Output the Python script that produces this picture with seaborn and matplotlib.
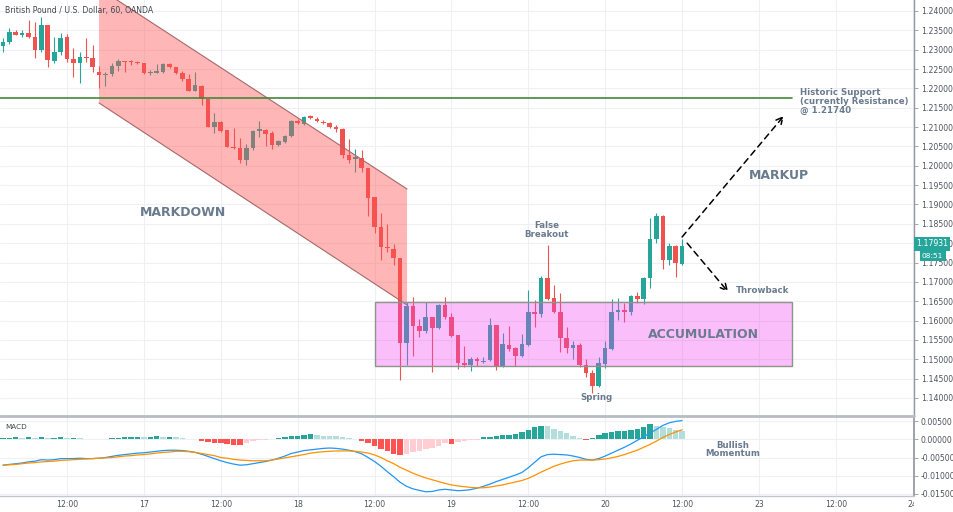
import numpy as np
import matplotlib
matplotlib.use("Agg")
import matplotlib.pyplot as plt
import seaborn as sns
from matplotlib.ticker import FuncFormatter
from matplotlib.lines import Line2D
from matplotlib.patches import Polygon, Rectangle
from matplotlib.transforms import Bbox, TransformedBbox

sns.set_theme(style="white")
plt.rcParams["font.family"] = ["DejaVu Sans"]

# ---------------- data (GBP/USD, 60 min, OANDA) ----------------
first_hour = 2  # first bar: 02:00 on the 16th, hourly bars follow

opens = [1.2310, 1.2321, 1.2347, 1.2338, 1.2342, 1.2334, 1.2299, 1.2364, 1.2272, 1.2295,
         1.2334, 1.2275, 1.2266, 1.2281, 1.2278, 1.2243, 1.2235, 1.2237, 1.2259, 1.2271,
         1.2270, 1.2269, 1.2265, 1.2241, 1.2241, 1.2243, 1.2263, 1.2254, 1.2239, 1.2224,
         1.2194, 1.2207, 1.2172, 1.2099, 1.2112, 1.2092, 1.2049, 1.2045, 1.2015, 1.2045,
         1.2090, 1.2093, 1.2084, 1.2054, 1.2061, 1.2076, 1.2117, 1.2108, 1.2129, 1.2122,
         1.2113, 1.2111, 1.2101, 1.2094, 1.2028, 1.2018, 1.2019, 1.1993, 1.1919, 1.1843,
         1.1791, 1.1785, 1.1761, 1.1543, 1.1638, 1.1586, 1.1573, 1.1608, 1.1582, 1.1640,
         1.1608, 1.1562, 1.1490, 1.1484, 1.1502, 1.1493, 1.1498, 1.1588, 1.1483, 1.1536,
         1.1528, 1.1509, 1.1537, 1.1623, 1.1617, 1.1711, 1.1658, 1.1621, 1.1554, 1.1530,
         1.1537, 1.1484, 1.1464, 1.1432, 1.1488, 1.1527, 1.1621, 1.1627, 1.1623, 1.1663,
         1.1656, 1.1709, 1.1810, 1.1869, 1.1757, 1.1793, 1.1747]
highs = [1.2329, 1.2357, 1.2351, 1.2351, 1.2377, 1.2372, 1.2385, 1.2364, 1.2334, 1.2342,
         1.2341, 1.2304, 1.2293, 1.2331, 1.2312, 1.2258, 1.2242, 1.2265, 1.2275, 1.2272,
         1.2273, 1.2272, 1.2265, 1.2248, 1.2263, 1.2265, 1.2265, 1.2256, 1.2246, 1.2237,
         1.2243, 1.2209, 1.2172, 1.2136, 1.2117, 1.2092, 1.2097, 1.2071, 1.2056, 1.2093,
         1.2117, 1.2095, 1.2091, 1.2067, 1.2080, 1.2118, 1.2120, 1.2129, 1.2130, 1.2125,
         1.2118, 1.2113, 1.2105, 1.2097, 1.2068, 1.2043, 1.2041, 1.1993, 1.1919, 1.1877,
         1.1850, 1.1798, 1.1761, 1.1649, 1.1660, 1.1603, 1.1649, 1.1610, 1.1643, 1.1662,
         1.1619, 1.1562, 1.1534, 1.1505, 1.1507, 1.1505, 1.1606, 1.1588, 1.1567, 1.1586,
         1.1533, 1.1565, 1.1679, 1.1653, 1.1715, 1.1795, 1.1692, 1.1672, 1.1583, 1.1548,
         1.1543, 1.1500, 1.1473, 1.1507, 1.1546, 1.1655, 1.1658, 1.1645, 1.1665, 1.1673,
         1.1712, 1.1864, 1.1877, 1.1873, 1.1800, 1.1795, 1.1810]
lows = [1.2295, 1.2314, 1.2338, 1.2334, 1.2329, 1.2279, 1.2295, 1.2256, 1.2265, 1.2286,
        1.2269, 1.2230, 1.2213, 1.2269, 1.2243, 1.2202, 1.2207, 1.2232, 1.2245, 1.2243,
        1.2260, 1.2262, 1.2236, 1.2235, 1.2239, 1.2241, 1.2252, 1.2237, 1.2220, 1.2192,
        1.2192, 1.2157, 1.2099, 1.2084, 1.2088, 1.2048, 1.2043, 1.2006, 1.2002, 1.2041,
        1.2075, 1.2050, 1.2043, 1.2052, 1.2058, 1.2074, 1.2108, 1.2105, 1.2122, 1.2113,
        1.2108, 1.2098, 1.2088, 1.2019, 1.2006, 1.1985, 1.1985, 1.1869, 1.1826, 1.1757,
        1.1778, 1.1744, 1.1447, 1.1486, 1.1509, 1.1557, 1.1569, 1.1468, 1.1577, 1.1604,
        1.1557, 1.1474, 1.1481, 1.1470, 1.1483, 1.1490, 1.1496, 1.1472, 1.1481, 1.1521,
        1.1483, 1.1507, 1.1534, 1.1583, 1.1610, 1.1653, 1.1619, 1.1520, 1.1516, 1.1500,
        1.1481, 1.1455, 1.1412, 1.1429, 1.1477, 1.1524, 1.1602, 1.1597, 1.1615, 1.1645,
        1.1643, 1.1683, 1.1800, 1.1733, 1.1744, 1.1712, 1.1744]
closes = [1.2321, 1.2345, 1.2338, 1.2342, 1.2334, 1.2299, 1.2364, 1.2273, 1.2295, 1.2331,
          1.2275, 1.2266, 1.2280, 1.2278, 1.2254, 1.2235, 1.2237, 1.2259, 1.2271, 1.2269,
          1.2269, 1.2265, 1.2239, 1.2243, 1.2246, 1.2263, 1.2256, 1.2239, 1.2223, 1.2194,
          1.2209, 1.2172, 1.2099, 1.2112, 1.2091, 1.2048, 1.2045, 1.2015, 1.2045, 1.2090,
          1.2094, 1.2082, 1.2054, 1.2065, 1.2077, 1.2117, 1.2110, 1.2127, 1.2124, 1.2116,
          1.2110, 1.2099, 1.2094, 1.2028, 1.2015, 1.2022, 1.1993, 1.1916, 1.1843, 1.1791,
          1.1787, 1.1761, 1.1543, 1.1638, 1.1586, 1.1573, 1.1608, 1.1582, 1.1640, 1.1608,
          1.1561, 1.1490, 1.1484, 1.1502, 1.1496, 1.1496, 1.1588, 1.1483, 1.1539, 1.1526,
          1.1509, 1.1539, 1.1623, 1.1617, 1.1711, 1.1657, 1.1621, 1.1554, 1.1530, 1.1537,
          1.1484, 1.1464, 1.1432, 1.1490, 1.1528, 1.1621, 1.1627, 1.1623, 1.1663, 1.1656,
          1.1709, 1.1810, 1.1869, 1.1757, 1.1793, 1.1748, 1.1793]

# MACD panel values in units of 0.001
macd_line = [-7.1, -6.9, -6.7, -6.5, -6.2, -6.0, -5.6, -5.7, -5.6, -5.3,
             -5.3, -5.3, -5.2, -5.3, -5.3, -5.2, -5.0, -4.7, -4.4, -4.2,
             -4.0, -3.8, -3.7, -3.5, -3.3, -3.1, -3.0, -3.0, -3.1, -3.3,
             -3.6, -4.1, -4.7, -5.3, -5.9, -6.4, -6.8, -7.1, -7.0, -6.7,
             -6.4, -6.1, -5.7, -5.2, -4.6, -3.9, -3.5, -3.1, -2.9, -2.7,
             -2.5, -2.4, -2.5, -2.7, -3.0, -3.4, -4.0, -5.0, -6.1, -7.4,
             -8.9, -10.3, -11.8, -12.9, -13.6, -14.0, -14.4, -14.3, -13.9, -13.7,
             -13.9, -14.1, -14.0, -13.8, -13.4, -12.9, -12.3, -11.6, -11.0, -10.4,
             -9.8, -9.1, -7.8, -6.3, -4.8, -4.2, -4.1, -4.2, -4.3, -4.6,
             -5.0, -5.5, -5.7, -5.3, -4.6, -3.8, -3.0, -2.2, -1.3, -0.3,
             0.7, 1.7, 2.7, 3.8, 4.5, 4.9, 5.1]
signal_line = [-7.1, -7.0, -6.9, -6.7, -6.5, -6.4, -6.2, -6.1, -6.0, -5.8,
               -5.7, -5.6, -5.5, -5.4, -5.3, -5.2, -5.1, -5.0, -4.8, -4.6,
               -4.5, -4.3, -4.2, -4.0, -3.8, -3.6, -3.5, -3.3, -3.3, -3.4,
               -3.6, -3.9, -4.2, -4.5, -5.0, -5.2, -5.5, -5.7, -5.8, -5.9,
               -5.9, -5.9, -5.7, -5.4, -5.1, -4.8, -4.5, -4.2, -3.8, -3.6,
               -3.4, -3.3, -3.2, -3.2, -3.2, -3.3, -3.5, -3.8, -4.3, -5.0,
               -5.9, -6.7, -7.7, -8.5, -9.3, -10.0, -10.6, -11.1, -11.6, -12.1,
               -12.5, -12.8, -13.0, -13.2, -13.3, -13.3, -13.1, -12.8, -12.5, -12.1,
               -11.7, -11.3, -10.7, -9.9, -9.0, -8.2, -7.4, -6.8, -6.3, -5.9,
               -5.7, -5.7, -5.7, -5.6, -5.4, -5.1, -4.7, -4.2, -3.6, -3.0,
               -2.2, -1.4, -0.5, 0.5, 1.3, 2.0, 2.6]
macd_hist = [0.3, 0.4, 0.5, 0.4, 0.6, 0.4, 0.6, 0.4, 0.4, 0.5,
             0.4, 0.4, 0.3, 0.2, 0.0, 0.0, 0.1, 0.3, 0.4, 0.5,
             0.6, 0.7, 0.6, 0.7, 0.8, 0.7, 0.7, 0.5, 0.4, 0.2,
             0.05, -0.4, -0.7, -0.9, -1.1, -1.3, -1.5, -1.6, -1.0, -0.6,
             -0.3, -0.1, 0.1, 0.3, 0.5, 0.8, 1.0, 1.2, 1.4, 1.3,
             1.0, 0.9, 0.8, 0.6, 0.3, 0.1, -0.4, -1.0, -1.8, -2.6,
             -3.3, -4.0, -4.4, -4.0, -3.6, -3.2, -2.8, -2.3, -1.8, -1.1,
             -1.4, -0.8, -0.6, -0.3, -0.1, 0.5, 0.7, 1.0, 1.2, 1.3,
             1.5, 2.0, 2.6, 3.4, 3.7, 3.5, 2.8, 2.2, 1.6, 1.0,
             0.4, -0.1, 0.3, 1.2, 1.6, 2.0, 2.3, 2.4, 2.5, 2.8,
             3.4, 4.1, 3.6, 3.3, 3.0, 2.6, 2.3]

tick_hours = [12, 24, 36, 48, 60, 72, 84, 96, 108, 120, 132, 144]
tick_labels = ["12:00", "17", "12:00", "18", "12:00", "19", "12:00", "20",
               "12:00", "23", "12:00", "24"]
price_ticks = [1.14 + 0.005 * k for k in range(21)]
macd_ticks = [0.005, 0.0, -0.005, -0.010, -0.015]

support_level = 1.2174
last_price = "1.17931"
countdown = "08:51"
channel_x = (17.0, 65.07)
channel_upper = (1.24587, 1.19400)
channel_lower = (1.21623, 1.16403)
box_x = (60.13, 125.1)
box_y = (1.14834, 1.16473)

# ---------------- figure ----------------
W, H = 954, 512
fig = plt.figure(figsize=(W / 100, H / 100), dpi=100)
fig.patch.set_facecolor("white")
axr = 914 / W
ax = fig.add_axes([0, (H - 415) / H, axr, 415 / H])
ax2 = fig.add_axes([0, (H - 496) / H, axr, 79 / H])

xlim = (1.54, 144.2)
grid_c = "#eef0f4"
axis_c = "#9598a1"
lab_c = "#50535e"
note_c = "#6a7b8e"

hours = first_hour + np.arange(len(opens))
O, Hh, L, C = map(np.asarray, (opens, highs, lows, closes))
up = C >= O
cols = np.where(up, "#26a69a", "#ef5350")

ax.vlines(hours, L, Hh, colors=cols, lw=0.8, zorder=2)
ax.bar(hours, np.maximum(np.abs(C - O), 0.00005), bottom=np.minimum(O, C),
       width=0.72, color=cols, linewidth=0, zorder=3)

# descending channel
poly = Polygon([(channel_x[0], channel_upper[0]), (channel_x[1], channel_upper[1]),
                (channel_x[1], channel_lower[1]), (channel_x[0], channel_lower[0])],
               closed=True, facecolor="#ff5252", alpha=0.42, edgecolor="none", zorder=4)
ax.add_patch(poly)
ax.plot(channel_x, channel_upper, color="#a86868", lw=0.8, zorder=4)
ax.plot(channel_x, channel_lower, color="#a86868", lw=0.8, zorder=4)

# accumulation box
ax.add_patch(Rectangle((box_x[0], box_y[0]), box_x[1] - box_x[0], box_y[1] - box_y[0],
                       facecolor="#f03cf0", alpha=0.33, edgecolor="none", zorder=4))
ax.add_patch(Rectangle((box_x[0], box_y[0]), box_x[1] - box_x[0], box_y[1] - box_y[0],
                       facecolor="none", edgecolor="#8c948c", lw=1.0, zorder=4))

# support line
ax.plot([xlim[0], box_x[1]], [support_level, support_level], color="#43883a", lw=1.2, zorder=5)

# arrows
aprops = dict(arrowstyle="->", linestyle=(0, (4, 3)), lw=1.1, color="black",
              mutation_scale=12, shrinkA=0, shrinkB=0)
ax.annotate("", xy=(123.9, 1.2129), xytext=(108.0, 1.1816), arrowprops=aprops, zorder=6)
ax.annotate("", xy=(115.2, 1.1674), xytext=(108.8, 1.1800), arrowprops=aprops, zorder=6)

# annotations
big = dict(color=note_c, fontsize=9, fontweight="bold", ha="center", va="center", zorder=7)
small = dict(color=note_c, fontsize=6.2, fontweight="bold", zorder=7)
ax.text(30.1, 1.1878, "MARKDOWN", **big)
ax.text(123.1, 1.1976, "MARKUP", **big)
ax.text(111.3, 1.1563, "ACCUMULATION", **big)
ax.text(86.9, 1.1834, "False\nBreakout", ha="center", va="center", linespacing=0.95, **small)
ax.text(94.7, 1.1400, "Spring", ha="center", va="center", **small)
ax.text(116.4, 1.16765, "Throwback", ha="left", va="center", **small)
ax.text(126.4, 1.2167, "Historic Support\n(currently Resistance)\n@ 1.21740",
        ha="left", va="center", linespacing=0.98, **small)

# price axis styling
ax.set_xlim(*xlim)
ax.set_ylim(1.1356, 1.24284)
ax.set_xticks(tick_hours)
ax.set_yticks(price_ticks)
ax.yaxis.tick_right()
ax.yaxis.set_major_formatter(FuncFormatter(lambda v, p: f"{v:.5f}"))
ax.tick_params(axis="y", right=True, length=3, width=0.6, color=axis_c,
               labelsize=5.6, labelcolor=lab_c, pad=2)
ax.tick_params(axis="x", bottom=False, labelbottom=False)
ax.grid(True, color=grid_c, lw=0.8)
ax.set_axisbelow(True)
for s in ("top", "left", "bottom"):
    ax.spines[s].set_visible(False)
ax.spines["right"].set_color(axis_c)
ax.spines["right"].set_linewidth(1.0)

# ---------------- MACD panel ----------------
hist = np.asarray(macd_hist) * 1e-3
prev = np.r_[hist[0], hist[:-1]]
hcols = np.where(hist >= 0,
                 np.where(hist >= prev, "#26a69a", "#b2dfdb"),
                 np.where(hist < prev, "#ff5252", "#ffcdd2"))
ax2.bar(hours, hist, width=0.85, color=hcols, linewidth=0, zorder=2)
sns.lineplot(x=hours, y=np.asarray(macd_line) * 1e-3, ax=ax2, color="#2196f3", lw=0.9, zorder=3)
sns.lineplot(x=hours, y=np.asarray(signal_line) * 1e-3, ax=ax2, color="#ff9100", lw=0.9, zorder=3)

ax2.set_xlim(*xlim)
ax2.set_ylim(-0.01555, 0.0061)
ax2.set_yticks(macd_ticks)
ax2.yaxis.tick_right()
ax2.yaxis.set_major_formatter(FuncFormatter(lambda v, p: f"{(0.0 if abs(v) < 1e-9 else v):.5f}"))
ax2.tick_params(axis="y", right=True, length=3, width=0.6, color=axis_c,
                labelsize=5.6, labelcolor=lab_c, pad=2)
ax2.set_xticks(tick_hours)
ax2.set_xticklabels(tick_labels)
ax2.tick_params(axis="x", bottom=False, length=0, labelsize=5.6, labelcolor=lab_c, pad=3)
ax2.grid(True, color=grid_c, lw=0.8)
ax2.set_axisbelow(True)
ax2.set_xlabel("")
ax2.set_ylabel("")
for s in ("top", "left"):
    ax2.spines[s].set_visible(False)
ax2.spines["right"].set_color(axis_c)
ax2.spines["bottom"].set_color("#c3c6cc")
ax2.spines["bottom"].set_linewidth(1.0)
clip = TransformedBbox(Bbox([[0, 0], [axr, 1]]), fig.transFigure)
for lbl in ax2.get_xticklabels():
    if lbl.get_text() == "24":
        lbl.set_clip_box(clip)
        lbl.set_clip_on(True)

ax2.text(115.9, -0.0028, "Bullish\nMomentum", ha="center", va="center",
         linespacing=0.95, color=note_c, fontsize=6.2, fontweight="bold")

# separator between panes
fig.add_artist(Line2D([0, axr], [1 - 415.5 / H] * 2, color="#b8bcc4", lw=2))

# header texts
fig.text(5 / W, 1 - 10 / H, "British Pound / U.S. Dollar, 60, OANDA", fontsize=5.6,
         color="#434651", ha="left", va="center")
fig.text(5 / W, 1 - 427 / H, "MACD", fontsize=5.2, color="#434651", ha="left", va="center")

# last price / countdown tags
fig.text(916 / W, 1 - 244 / H, last_price, fontsize=5.6, color="white", ha="left", va="center",
         bbox=dict(boxstyle="square,pad=0.3", fc="#26a69a", ec="none"))
fig.text(922 / W, 1 - 256 / H, countdown, fontsize=5.4, color="white", ha="left", va="center",
         bbox=dict(boxstyle="square,pad=0.3", fc="#26a69a", ec="none"))

fig.savefig("out.png", dpi=100, facecolor="white")
